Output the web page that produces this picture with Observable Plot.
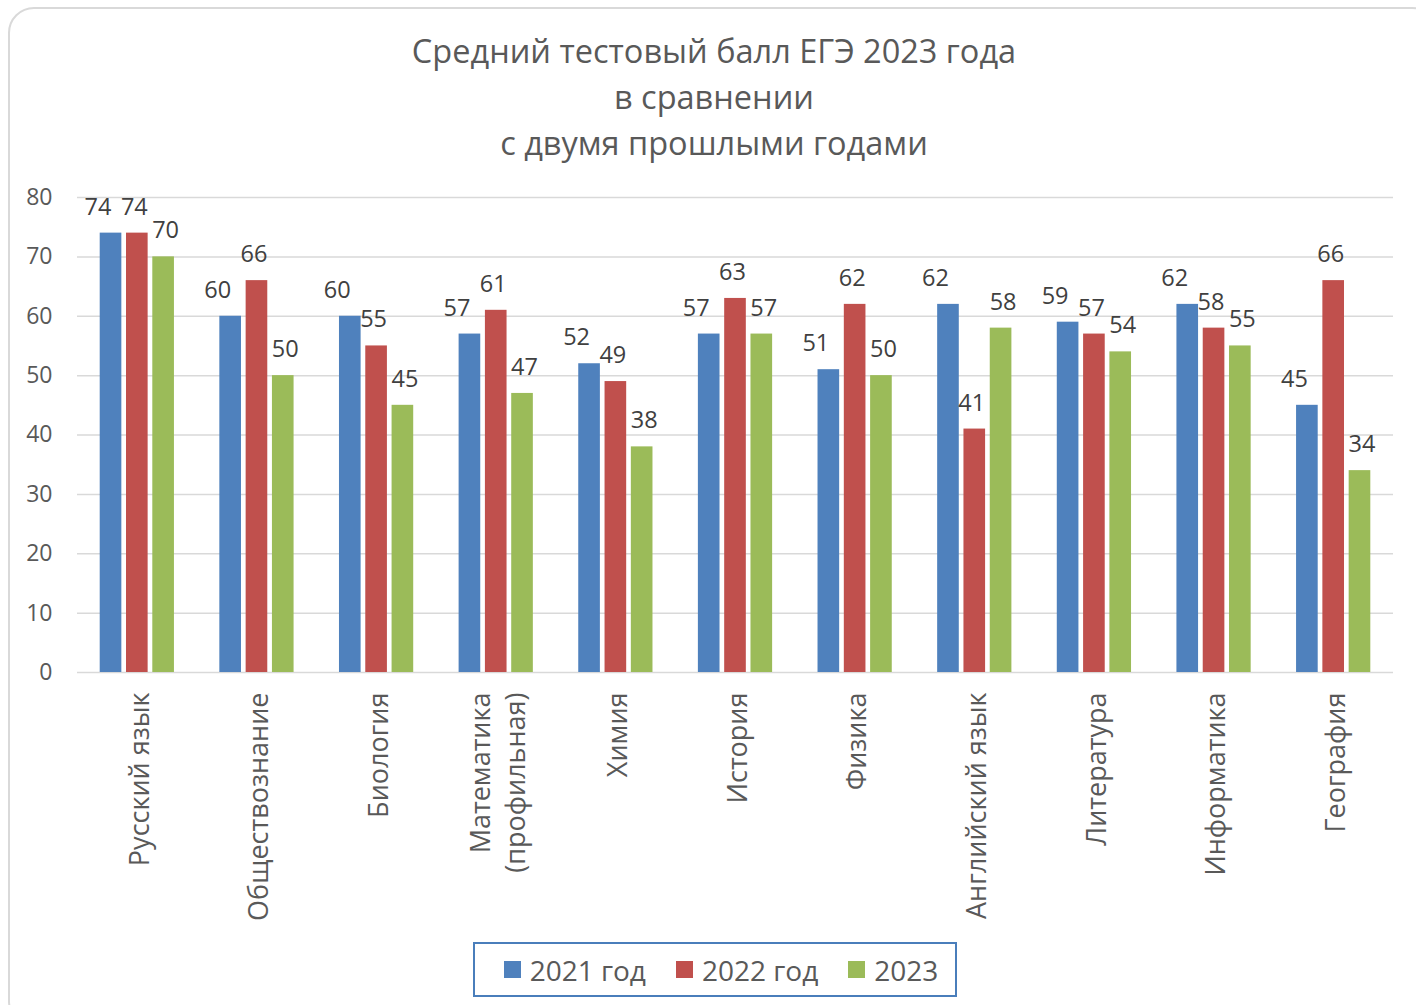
<!DOCTYPE html>
<html><head><meta charset="utf-8">
<script src="https://cdn.jsdelivr.net/npm/d3@7"></script>
<script src="https://cdn.jsdelivr.net/npm/@observablehq/plot@0.6"></script>
<style>
body{margin:0;background:#fff;font-family:"Open Sans",sans-serif;color:#595959;width:1416px;height:1005px;overflow:hidden;position:relative}
#frame{position:absolute;left:8px;top:7px;width:1430px;height:1020px;border:2px solid #d9d9d9;border-radius:26px;box-sizing:border-box}
#title{position:absolute;left:0;width:1428px;top:28px;text-align:center;font-size:32.5px;line-height:46px;color:#595959}
#chart{position:absolute;left:0;top:180px}
#legend{position:absolute;left:473px;top:942px;width:484px;height:55px;border:2px solid #4a7ebb;box-sizing:border-box;display:flex;align-items:center;justify-content:center;gap:30px;padding-left:12px;font-size:28px;color:#595959}
#legend .it{display:flex;align-items:center;gap:9px}
#legend .sw{width:17px;height:17px;display:inline-block}
</style></head>
<body>
<div id="frame"></div>
<div id="title">Средний тестовый балл ЕГЭ 2023 года<br>в сравнении<br>с двумя прошлыми годами</div>
<div id="chart"></div>
<div id="legend"></div>
<script>
const categories = ["Русский язык","Обществознание","Биология","Математика\n(профильная)","Химия","История","Физика","Английский язык","Литература","Информатика","География"];
const seriesNames = ["2021 год","2022 год","2023"];
const values2021 = [74,60,60,57,52,57,51,62,59,62,45];
const values2022 = [74,66,55,61,49,63,62,41,57,58,66];
const values2023 = [70,50,45,47,38,57,50,58,54,55,34];
const yTicks = [0,10,20,30,40,50,60,70,80];
const colors = ["#4f81bd","#c0504d","#9bbb59"];

const allValues = [values2021, values2022, values2023];
const rows = seriesNames.map((s, i) => categories.map((c, j) => ({category: c, series: s, value: allValues[i][j]})));

const barOffsets = [-26.3, 0, 26.3];
const labelOffsets = [-13, -3, 2];

const chart = Plot.plot({
  width: 1416,
  height: 760,
  marginTop: 17,
  marginBottom: 268,
  marginLeft: 77,
  marginRight: 23,
  style: {fontFamily: "'Open Sans', sans-serif", fontSize: "22px", color: "#595959", background: "transparent", overflow: "visible"},
  x: {domain: categories, padding: 0, round: false, label: null},
  y: {domain: [0, 80], label: null},
  marks: [
    Plot.ruleY(yTicks, {stroke: "#d9d9d9", strokeWidth: 1.5}),
    Plot.axisY(yTicks, {tickSize: 0, tickPadding: 25, fontSize: 23, label: null}),
    Plot.axisX({tickRotate: -90, tickSize: 0, tickPadding: 20, fontSize: 27, lineHeight: 1.3, label: null}),
    ...rows.map((data, i) => Plot.barY(data, {x: "category", y: "value", fill: colors[i], insetLeft: 49, insetRight: 49, dx: barOffsets[i]})),
    ...rows.map((data, i) => Plot.text(data, {x: "category", y: "value", text: d => String(d.value), dx: barOffsets[i] + labelOffsets[i], dy: -26, fill: "#404040", fontSize: 23.5}))
  ]
});
document.getElementById("chart").appendChild(chart);

const legend = document.getElementById("legend");
seriesNames.forEach((s, i) => {
  const it = document.createElement("div");
  it.className = "it";
  const sw = document.createElement("span");
  sw.className = "sw";
  sw.style.background = colors[i];
  const tx = document.createElement("span");
  tx.textContent = s;
  it.appendChild(sw); it.appendChild(tx);
  legend.appendChild(it);
});
</script>
</body></html>
